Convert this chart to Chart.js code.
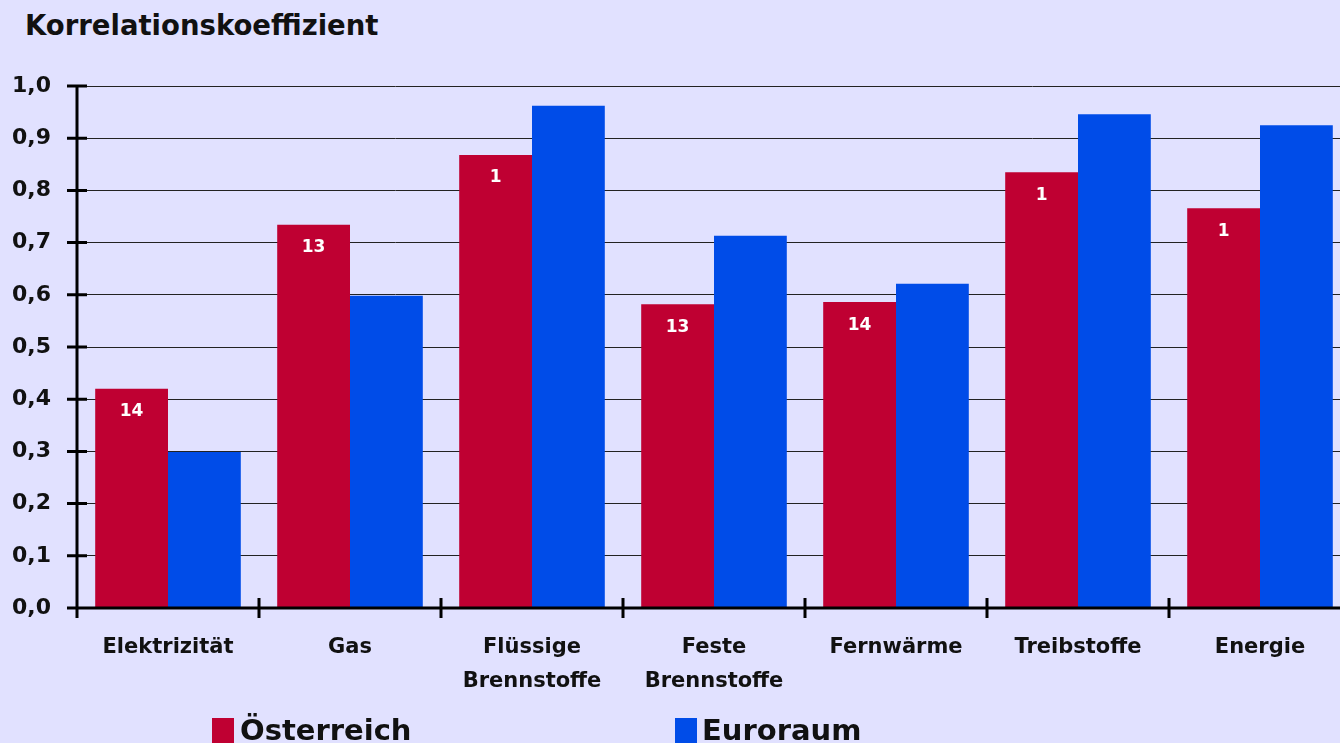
<!DOCTYPE html>
<html>
<head>
<meta charset="utf-8">
<script src="https://cdn.jsdelivr.net/npm/chart.js@4"></script>
<style>
  html, body { margin: 0; padding: 0; background: #e1e1ff; overflow: hidden; }
  body { width: 1340px; height: 743px; position: relative; font-family: "DejaVu Sans", sans-serif; font-weight: bold; color: #111; }
  #title { position: absolute; left: 25px; top: 12px; font-size: 27.5px; line-height: 1; white-space: nowrap; }
  canvas { position: absolute; left: 0; top: 0; }
  .legend { position: absolute; top: 716px; font-size: 29px; line-height: 1; white-space: nowrap; }
  .box { position: absolute; top: 718px; width: 22px; height: 25px; }
</style>
</head>
<body>
<div id="title">Korrelationskoeffizient</div>
<canvas id="chart" width="1351" height="743"></canvas>
<div class="box" style="left:212px;background:#bf0032"></div>
<div class="legend" style="left:240px">Österreich</div>
<div class="box" style="left:675px;background:#004ce8"></div>
<div class="legend" style="left:702px">Euroraum</div>

<script>
// categories and values
const categories = [
    "Elektrizität",
    "Gas",
    ["Flüssige", "Brennstoffe"],
    ["Feste", "Brennstoffe"],
    "Fernwärme",
    "Treibstoffe",
    "Energie"
];
const austria = [0.42, 0.734, 0.868, 0.582, 0.586, 0.835, 0.766];
const euroArea = [0.299, 0.598, 0.962, 0.713, 0.621, 0.946, 0.925];
// small white numbers printed inside the red bars
const austriaNotes = ["14", "13", "1", "13", "14", "1", "1"];
const yTickLabels = ["0,0", "0,1", "0,2", "0,3", "0,4", "0,5", "0,6", "0,7", "0,8", "0,9", "1,0"];

const RED = "#bf0032";
const BLUE = "#004ce8";

// axes with ticks that cross the axis line, plus the numbers in the red bars
const axisAndNotes = {
    id: "axisAndNotes",
    afterDatasetsDraw(chart) {
        const ctx = chart.ctx;
        const area = chart.chartArea;
        const x = chart.scales.x;
        const y = chart.scales.y;

        ctx.save();
        ctx.strokeStyle = "#000";
        ctx.lineWidth = 3;
        ctx.beginPath();
        // y axis and x axis
        ctx.moveTo(area.left, area.top);
        ctx.lineTo(area.left, area.bottom + 10);
        ctx.moveTo(area.left - 10, area.bottom);
        ctx.lineTo(area.right, area.bottom);
        // y ticks
        y.ticks.forEach(function (t) {
            const py = y.getPixelForValue(t.value);
            ctx.moveTo(area.left - 10, py);
            ctx.lineTo(area.left + 10, py);
        });
        // x ticks at category boundaries
        for (let i = 1; i < categories.length; i++) {
            const px = (x.getPixelForValue(i - 1) + x.getPixelForValue(i)) / 2;
            ctx.moveTo(px, area.bottom - 10);
            ctx.lineTo(px, area.bottom + 10);
        }
        ctx.stroke();

        // notes in the Austrian bars
        const meta = chart.getDatasetMeta(0);
        ctx.fillStyle = "#fff";
        ctx.font = "bold 17px 'DejaVu Sans'";
        ctx.textAlign = "center";
        ctx.textBaseline = "middle";
        meta.data.forEach(function (bar, i) {
            ctx.fillText(austriaNotes[i], bar.x, bar.y + 23);
        });
        ctx.restore();
    }
};

new Chart(document.getElementById("chart"), {
    type: "bar",
    data: {
        labels: categories,
        datasets: [
            { label: "Österreich", data: austria, backgroundColor: RED },
            { label: "Euroraum", data: euroArea, backgroundColor: BLUE }
        ]
    },
    options: {
        responsive: false,
        animation: false,
        events: [],
        layout: { padding: { top: 86, left: 0, right: 0, bottom: 0 } },
        categoryPercentage: 0.8,
        barPercentage: 1.0,
        plugins: {
            legend: { display: false },
            tooltip: { enabled: false }
        },
        scales: {
            x: {
                grid: { display: false },
                border: { display: false },
                ticks: {
                    color: "#111",
                    padding: 15,
                    maxRotation: 0,
                    autoSkip: false,
                    font: { family: "DejaVu Sans", weight: "bold", size: 21, lineHeight: "34px" }
                },
                afterFit: function (scale) { scale.height = 135; }
            },
            y: {
                min: 0,
                max: 1,
                grid: { color: "#222", lineWidth: 1, drawTicks: false },
                border: { display: false },
                ticks: {
                    stepSize: 0.1,
                    padding: 26,
                    color: "#111",
                    font: { family: "DejaVu Sans", weight: "bold", size: 22 },
                    callback: function (value, index) { return yTickLabels[index]; }
                },
                afterFit: function (scale) { scale.width = 77; }
            }
        }
    },
    plugins: [axisAndNotes]
});
</script>
</body>
</html>
